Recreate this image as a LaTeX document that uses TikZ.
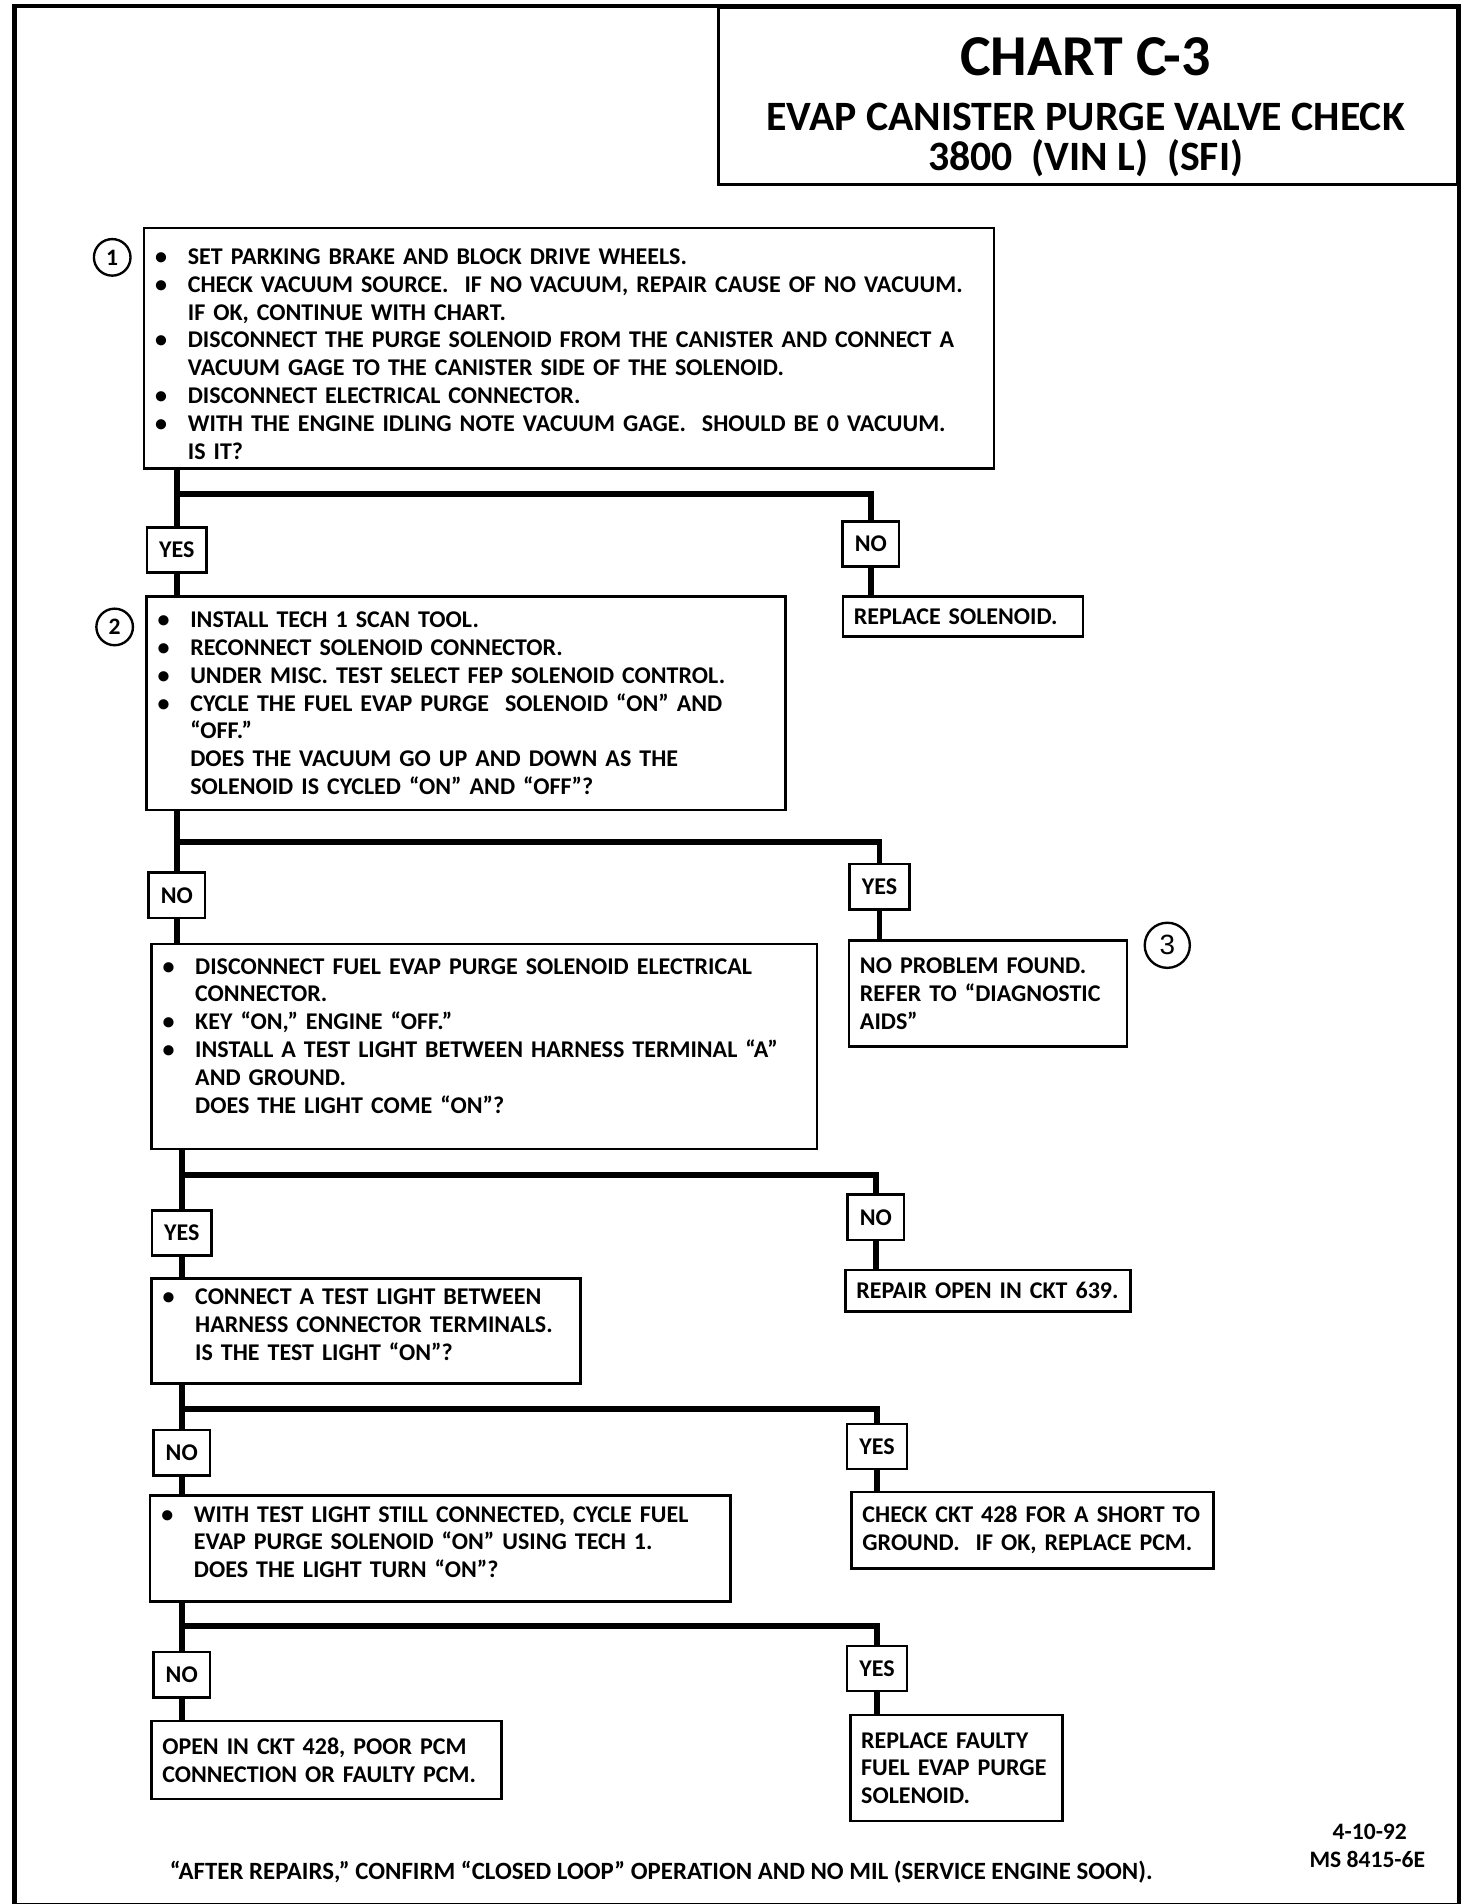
\documentclass[tikz,border=0pt]{standalone}
\usepackage{fontspec}
\setmainfont{Carlito}
\newfontfamily\numfont{Liberation Sans}
\usepackage{tikz}
\usetikzlibrary{positioning}
\usetikzlibrary{calc}

\newcommand{\bul}{\leavevmode\llap{\textbullet\hspace{0.34cm}}}

\tikzset{
	box/.style={draw, line width=1.2pt, anchor=north west, inner xsep=0pt, inner ysep=0pt,
		align=left, font=\fontsize{11.2}{13}\selectfont\bfseries},
	stepbox/.style={box, execute at begin node={\leftskip=0.72cm\relax}},
	resbox/.style={box, execute at begin node={\leftskip=0.18cm\relax}},
	answer/.style={draw, line width=1.2pt, inner xsep=0.2cm, minimum height=0.74cm,
		font=\fontsize{11.2}{13}\selectfont\bfseries},
	stepnum/.style={draw, circle, line width=1.1pt, inner sep=0pt, minimum size=0.6cm,
		font=\fontsize{11}{11}\selectfont\bfseries},
	heading/.style={anchor=base, inner sep=0pt},
	flow/.style={line width=2.7pt, line join=miter},
}

\begin{document}
\begin{tikzpicture}[x=0.02cm, y=-0.02cm]
	
	\useasboundingbox (0,0) rectangle (1207,1561);
	
	% frame and title block
	\draw[line width=2pt] (12,5) rectangle (1196,1562);
	\node[draw, line width=1.4pt, anchor=north east, minimum width=12.12cm, minimum height=2.9cm] (title) at (1196,5) {};
	\node[heading, font=\fontsize{27}{27}\selectfont\bfseries] (chart) at (890,62) {CHART C-3};
	\node[heading, font=\fontsize{19.5}{19.5}\selectfont\bfseries] (purge) at (890,107) {EVAP CANISTER PURGE VALVE CHECK};
	\node[heading, font=\fontsize{19.5}{19.5}\selectfont\bfseries] (engine) at (890,140) {3800\ \ (VIN L)\ \ (SFI)};
	
	% steps
	\node[stepbox, text width=13.94cm, minimum height=3.94cm, text height=0.45cm] (s1) at (117,186) {%
		\bul SET PARKING BRAKE AND BLOCK DRIVE WHEELS.\\
		\bul CHECK VACUUM SOURCE.\ \ IF NO VACUUM, REPAIR CAUSE OF NO VACUUM.\\
		IF OK, CONTINUE WITH CHART.\\
		\bul DISCONNECT THE PURGE SOLENOID FROM THE CANISTER AND CONNECT A\\
		VACUUM GAGE TO THE CANISTER SIDE OF THE SOLENOID.\\
		\bul DISCONNECT ELECTRICAL CONNECTOR.\\
		\bul WITH THE ENGINE IDLING NOTE VACUUM GAGE.\ \ SHOULD BE 0 VACUUM.\\
		IS IT?};
	\node[stepbox, text width=10.48cm, minimum height=3.5cm] (s2) at (119,488) {%
		\bul INSTALL TECH 1 SCAN TOOL.\\
		\bul RECONNECT SOLENOID CONNECTOR.\\
		\bul UNDER MISC. TEST SELECT FEP SOLENOID CONTROL.\\
		\bul CYCLE THE FUEL EVAP PURGE\ \ SOLENOID “ON” AND\\
		“OFF.”\\
		DOES THE VACUUM GO UP AND DOWN AS THE\\
		SOLENOID IS CYCLED “ON” AND “OFF”?};
	\node[stepbox, text width=10.92cm, minimum height=3.36cm] (s3) at (123,773) {%
		\bul DISCONNECT FUEL EVAP PURGE SOLENOID ELECTRICAL\\
		CONNECTOR.\\
		\bul KEY “ON,” ENGINE “OFF.”\\
		\bul INSTALL A TEST LIGHT BETWEEN HARNESS TERMINAL “A”\\
		AND GROUND.\\
		DOES THE LIGHT COME “ON”?\\[-3pt]\mbox{}};
	\node[stepbox, text width=7.04cm, minimum height=1.72cm] (s4) at (123,1047) {%
		\bul CONNECT A TEST LIGHT BETWEEN\\
		HARNESS CONNECTOR TERMINALS.\\
		IS THE TEST LIGHT “ON”?\\[-7pt]\mbox{}};
	\node[stepbox, text width=9.52cm, minimum height=1.74cm] (s5) at (122,1225) {%
		\bul WITH TEST LIGHT STILL CONNECTED, CYCLE FUEL\\
		EVAP PURGE SOLENOID “ON” USING TECH 1.\\
		DOES THE LIGHT TURN “ON”?\\[-7pt]\mbox{}};
	
	% results
	\node[resbox, text width=3.94cm, minimum height=0.66cm] (r1) at (690,488) {REPLACE SOLENOID.};
	\node[resbox, text width=4.56cm, minimum height=1.74cm] (r2) at (695,770) {%
		NO PROBLEM FOUND.\\
		REFER TO “DIAGNOSTIC\\
		AIDS”};
	\node[resbox, text width=4.68cm, minimum height=0.68cm] (r3) at (692,1040) {REPAIR OPEN IN CKT 639.};
	\node[resbox, text width=5.94cm, minimum height=1.26cm] (r4) at (697,1222) {%
		CHECK CKT 428 FOR A SHORT TO\\
		GROUND.\ \ IF OK, REPLACE PCM.};
	\node[resbox, text width=3.48cm, minimum height=1.74cm] (r5) at (696,1405) {%
		REPLACE FAULTY\\
		FUEL EVAP PURGE\\
		SOLENOID.};
	\node[resbox, text width=5.74cm, minimum height=1.28cm] (r6) at (123,1410) {%
		OPEN IN CKT 428, POOR PCM\\
		CONNECTION OR FAULTY PCM.};
	
	% step numbers
	\node[stepnum] (c1) at (92,211) {1};
	\node[stepnum] (c2) at (94,514) {2};
	\node[stepnum, minimum size=0.74cm, font=\fontsize{13}{13}\selectfont\numfont] (c3) at (957,775) {3};
	
	% answers
	\node[answer] (y1) at (145,451) {YES};
	\node[answer] (n1) at (714,446) {NO};
	\node[answer] (n2) at (145,734) {NO};
	\node[answer] (y2) at (721,727) {YES};
	\node[answer] (y3) at (149,1011) {YES};
	\node[answer] (n3) at (718,998) {NO};
	\node[answer] (n4) at (149,1191) {NO};
	\node[answer] (y4) at (719,1186) {YES};
	\node[answer] (n5) at (149,1373) {NO};
	\node[answer] (y5) at (719,1368) {YES};
	
	% branch points
	\coordinate (j1) at (145,405);
	\coordinate (j2) at (145,690);
	\coordinate (j3) at (149,963);
	\coordinate (j4) at (149,1155);
	\coordinate (j5) at (149,1333);
	
	% flow lines
	\draw[flow] (s1.south -| y1) -- (y1) -- (s2.north -| y1);
	\draw[flow] (j1) -| (n1);
	\draw[flow] (n1) -- (r1.north -| n1);
	
	\draw[flow] (s2.south -| n2) -- (n2) -- (s3.north -| n2);
	\draw[flow] (j2) -| (y2);
	\draw[flow] (y2) -- (r2.north -| y2);
	
	\draw[flow] (s3.south -| y3) -- (y3) -- (s4.north -| y3);
	\draw[flow] (j3) -| (n3);
	\draw[flow] (n3) -- (r3.north -| n3);
	
	\draw[flow] (s4.south -| n4) -- (n4) -- (s5.north -| n4);
	\draw[flow] (j4) -| (y4);
	\draw[flow] (y4) -- (r4.north -| y4);
	
	\draw[flow] (s5.south -| n5) -- (n5) -- (r6.north -| n5);
	\draw[flow] (j5) -| (y5);
	\draw[flow] (y5) -- (r5.north -| y5);
	
	% footer
	\node[anchor=base west, font=\fontsize{11.6}{13}\selectfont\bfseries] (note) at (133,1541)
		{“AFTER REPAIRS,” CONFIRM “CLOSED LOOP” OPERATION AND NO MIL (SERVICE ENGINE SOON).};
	\node[anchor=base, font=\fontsize{11}{13}\selectfont\bfseries] (date) at (1123,1508) {4-10-92};
	\node[anchor=base, font=\fontsize{11}{13}\selectfont\bfseries] (msno) at (1121,1531) {MS 8415-6E};
	
\end{tikzpicture}
\end{document}
